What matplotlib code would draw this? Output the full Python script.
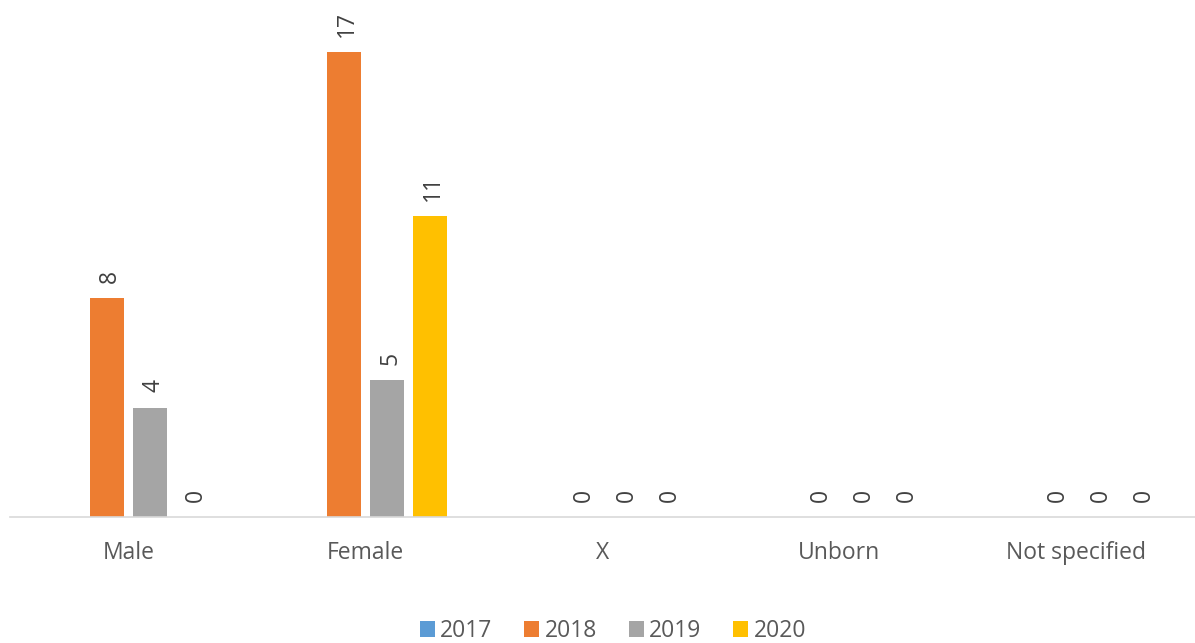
import matplotlib.pyplot as plt
import numpy as np

plt.rcParams['font.family'] = ['Open Sans', 'DejaVu Sans']

categories = ['Male', 'Female', 'X', 'Unborn', 'Not specified']
years = ['2017', '2018', '2019', '2020']
values_2017 = [np.nan, np.nan, np.nan, np.nan, np.nan]
values_2018 = [8, 17, 0, 0, 0]
values_2019 = [4, 5, 0, 0, 0]
values_2020 = [0, 11, 0, 0, 0]
colors = ['#5B9BD5', '#ED7D31', '#A5A5A5', '#FFC000']

series = [values_2017, values_2018, values_2019, values_2020]

fig = plt.figure(figsize=(11.95, 6.43), dpi=100)
ax = fig.add_axes([10 / 1195, 126 / 643, 1185 / 1195, 492 / 643])

x = np.arange(len(categories))
bar_w = 34 / 237
step = 43 / 237
text_color = '#595959'

for i, (vals, col, yr) in enumerate(zip(series, colors, years)):
    pos = x + (i - 1.5) * step
    bars = ax.bar(pos, vals, width=bar_w, color=col, label=yr)
    for p, v in zip(pos, vals):
        if np.isnan(v):
            continue
        ax.annotate(str(v), (p, v), xytext=(2.3, 11), textcoords='offset points',
                    rotation=90, ha='center', va='bottom',
                    fontsize=16.5, color='#404040', annotation_clip=False)

ax.set_xlim(-0.5, len(categories) - 0.5)
ax.set_ylim(0, 18)
ax.set_xticks(x)
ax.set_xticklabels(categories, fontsize=16.5, color=text_color)
ax.tick_params(axis='x', length=0, pad=17)
ax.set_yticks([])
for s in ['top', 'right', 'left']:
    ax.spines[s].set_visible(False)
ax.spines['bottom'].set_color('#D9D9D9')
ax.spines['bottom'].set_linewidth(1.2)

leg = fig.legend(loc='center', bbox_to_anchor=(613 / 1195, 1 - 631 / 643), ncol=4,
                 frameon=False, fontsize=16.5, handlelength=0.65, handleheight=0.65,
                 handletextpad=0.25, columnspacing=1.38)
for t in leg.get_texts():
    t.set_color(text_color)

fig.savefig('out.png', dpi=100)
